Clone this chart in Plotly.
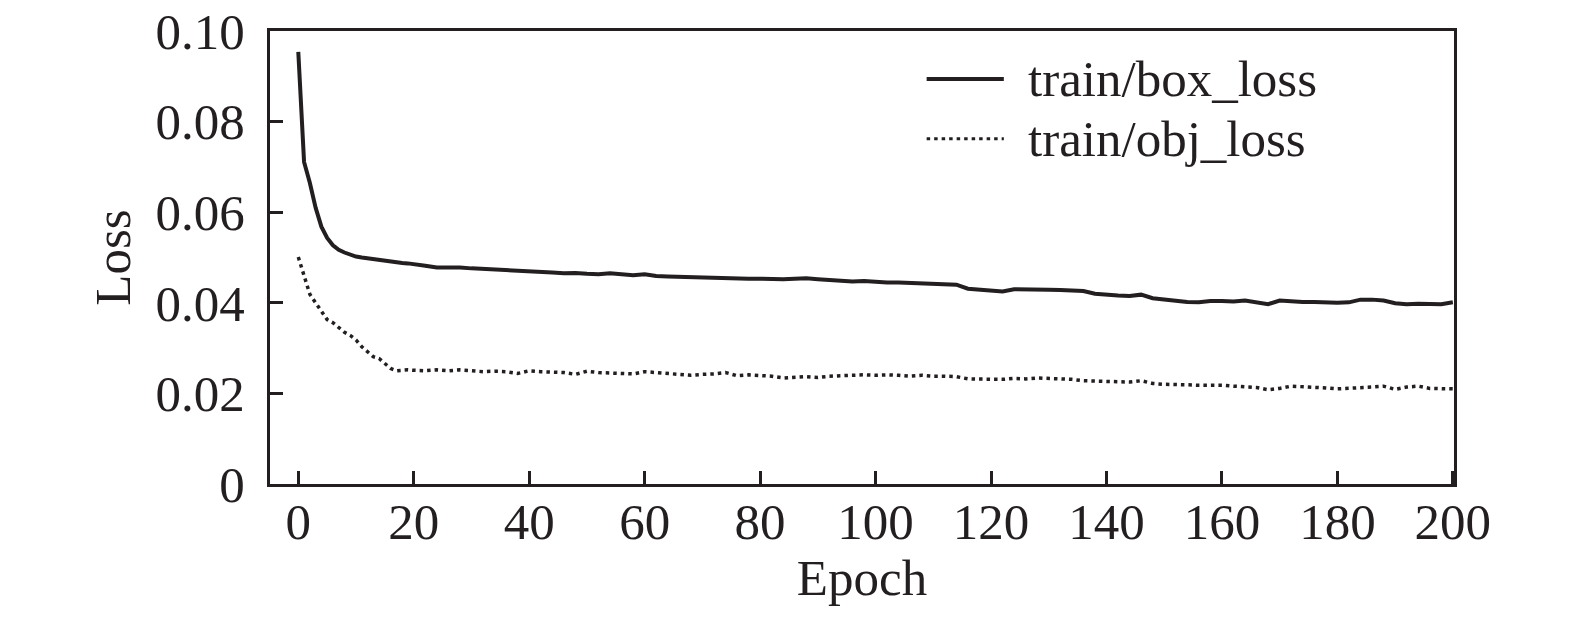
import plotly.graph_objects as go

# epochs: every epoch up to 20, then every 2nd epoch
epochs = list(range(0, 21)) + list(range(22, 201, 2))

box_loss = [
    0.0954, 0.0711, 0.0665, 0.0610, 0.0568, 0.0543, 0.0527, 0.0517, 0.0511, 0.0506,
    0.0502, 0.0500, 0.0498, 0.0497, 0.0496, 0.0494, 0.0492, 0.0490, 0.0488, 0.0487,
    0.0486,
    0.0482, 0.0478, 0.0479, 0.0478, 0.0476, 0.0475, 0.0473, 0.0472, 0.0471, 0.0469,
    0.0468, 0.0467, 0.0465, 0.0466, 0.0464, 0.0463, 0.0465, 0.0462, 0.0461, 0.0463,
    0.0459, 0.0458, 0.0457, 0.0457, 0.0456, 0.0455, 0.0455, 0.0454, 0.0453, 0.0453,
    0.0452, 0.0452, 0.0453, 0.0454, 0.0452, 0.0450, 0.0448, 0.0447, 0.0448, 0.0446,
    0.0445, 0.0445, 0.0444, 0.0442, 0.0443, 0.0441, 0.0440, 0.0431, 0.0429, 0.0428,
    0.0425, 0.0430, 0.0430, 0.0431, 0.0429, 0.0428, 0.0427, 0.0426, 0.0420, 0.0417,
    0.0416, 0.0415, 0.0418, 0.0410, 0.0407, 0.0405, 0.0402, 0.0401, 0.0404, 0.0404,
    0.0403, 0.0405, 0.0401, 0.0397, 0.0405, 0.0403, 0.0402, 0.0402, 0.0400, 0.0400,
    0.0401, 0.0407, 0.0407, 0.0405, 0.0399, 0.0397, 0.0398, 0.0397, 0.0397, 0.0401,
]

obj_loss = [
    0.0501, 0.0458, 0.0419, 0.0400, 0.0383, 0.0363, 0.0356, 0.0345, 0.0335, 0.0328,
    0.0318, 0.0303, 0.0291, 0.0281, 0.0277, 0.0266, 0.0255, 0.0250, 0.0251, 0.0252,
    0.0251,
    0.0250, 0.0252, 0.0250, 0.0252, 0.0250, 0.0248, 0.0249, 0.0248, 0.0244, 0.0250,
    0.0248, 0.0247, 0.0246, 0.0242, 0.0249, 0.0246, 0.0245, 0.0244, 0.0243, 0.0248,
    0.0246, 0.0244, 0.0241, 0.0240, 0.0242, 0.0243, 0.0246, 0.0239, 0.0241, 0.0240,
    0.0238, 0.0234, 0.0236, 0.0237, 0.0235, 0.0238, 0.0239, 0.0240, 0.0241, 0.0240,
    0.0241, 0.0240, 0.0238, 0.0240, 0.0238, 0.0238, 0.0237, 0.0232, 0.0232, 0.0231,
    0.0231, 0.0233, 0.0232, 0.0234, 0.0233, 0.0232, 0.0231, 0.0228, 0.0227, 0.0226,
    0.0226, 0.0225, 0.0228, 0.0222, 0.0220, 0.0220, 0.0219, 0.0218, 0.0218, 0.0218,
    0.0216, 0.0215, 0.0213, 0.0208, 0.0211, 0.0216, 0.0215, 0.0213, 0.0212, 0.0210,
    0.0211, 0.0212, 0.0214, 0.0216, 0.0209, 0.0214, 0.0216, 0.0211, 0.0210, 0.0210,
]

x_ticks = list(range(0, 201, 20))
y_ticks = [0, 0.02, 0.04, 0.06, 0.08, 0.10]
y_tick_text = ["0", "0.02", "0.04", "0.06", "0.08", "0.10"]
series_names = ["train/box_loss", "train/obj_loss"]

INK = "#231f20"
FONT = dict(family="Liberation Serif, Times New Roman, serif", size=51, color=INK)
DOTS = "3.5px,4px"

fig = go.Figure()
fig.add_trace(go.Scatter(x=epochs, y=box_loss, mode="lines", name=series_names[0],
                         line=dict(color=INK, width=4)))
fig.add_trace(go.Scatter(x=epochs, y=obj_loss, mode="lines", name=series_names[1],
                         line=dict(color=INK, width=3.5, dash=DOTS)))

# hand-drawn legend (long sample lines like the original)
legend_rows = [(0.894, "solid", 4), (0.762, DOTS, 3)]
for (ly, dash, w), name in zip(legend_rows, series_names):
    fig.add_shape(type="line", xref="paper", yref="paper",
                  x0=0.5546, x1=0.6198, y0=ly, y1=ly,
                  line=dict(color=INK, width=w, dash=dash))
    fig.add_annotation(xref="paper", yref="paper", x=0.6384, y=ly, text=name,
                       showarrow=False, xanchor="left", yanchor="middle", font=FONT)

axis_common = dict(
    showline=True, linecolor=INK, linewidth=3, mirror=True,
    ticks="inside", ticklen=13, tickwidth=3, tickcolor=INK,
    showgrid=False, zeroline=False, tickfont=FONT, automargin=False,
    ticklabeloverflow="allow",
)

fig.update_xaxes(range=[-4.9, 200.2], tickvals=x_ticks, ticklabelstandoff=-9,
                 title=dict(text="Epoch", font=FONT, standoff=0), **axis_common)
fig.update_yaxes(range=[0, 0.1], tickvals=y_ticks, ticktext=y_tick_text,
                 ticklabelstandoff=12,
                 title=dict(text="Loss", font=FONT, standoff=9), **axis_common)

fig.update_layout(
    width=1575, height=619,
    margin=dict(l=262, r=129, t=23, b=143),
    plot_bgcolor="white", paper_bgcolor="white",
    showlegend=False, font=FONT,
)

fig.write_html("out.html")
